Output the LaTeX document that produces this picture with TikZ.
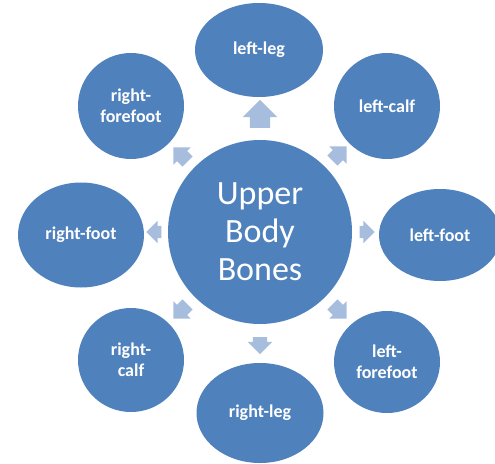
\documentclass[tikz,border=0pt]{standalone}
\usepackage{fontspec}
\setmainfont{Carlito}
\usetikzlibrary{shapes.geometric,shapes.arrows}
\definecolor{boneblue}{HTML}{4F81BD}
\definecolor{arrowblue}{HTML}{A7BDDD}

\begin{document}
\begin{tikzpicture}[x=1pt, y=-1pt,
    bone/.style={ellipse, fill=boneblue, text=white, inner sep=0pt, align=center,
        font=\fontsize{18}{21}\selectfont\bfseries},
    core/.style={circle, fill=boneblue, text=white, inner sep=0pt, align=center,
        minimum size=184pt, font=\fontsize{34}{38}\selectfont},
    link/.style={single arrow, fill=arrowblue, inner xsep=0pt, inner ysep=7pt,
        single arrow head indent=0pt, minimum height=20pt, single arrow head extend=5pt}]
    \useasboundingbox[fill=white] (0,0) rectangle (495,463);
    \node[core] (core) at (260,232) {Upper\\Body\\Bones};
    \node[bone, minimum width=128pt, minimum height=94pt] (lleg) at (259,50) {left-leg};
    \node[bone, minimum width=106pt, minimum height=106pt] (lcalf) at (387,106) {left-calf};
    \node[bone, minimum width=122pt, minimum height=92pt] (lfoot) at (440,235) {left-foot};
    \node[bone, minimum width=106pt, minimum height=102pt] (lfore) at (387,362) {left-\\forefoot};
    \node[bone, minimum width=127pt, minimum height=100pt] (rleg) at (260,413) {right-leg};
    \node[bone, minimum width=106pt, minimum height=104pt] (rcalf) at (131,360) {right-\\calf};
    \node[bone, minimum width=126pt, minimum height=105pt] (rfoot) at (81,235) {right-foot};
    \node[bone, minimum width=106pt, minimum height=106pt] (rfore) at (131,106) {right-\\forefoot};
    % arrows from the core out to each bone
    \node[link, rotate=90, minimum height=28pt, inner ysep=10pt, single arrow head extend=7pt] (up) at (260,119) {};
    \node[link, rotate=45] (upright) at (337,156) {};
    \node[link, rotate=0, minimum height=15pt, inner ysep=6pt] (right) at (364,232) {};
    \node[link, rotate=-45] (downright) at (337,309) {};
    \node[link, rotate=-90, minimum height=17pt] (down) at (260,342) {};
    \node[link, rotate=-135] (downleft) at (183,309) {};
    \node[link, rotate=180, minimum height=15pt, inner ysep=6pt] (left) at (157,232) {};
    \node[link, rotate=135] (upleft) at (183,157) {};
\end{tikzpicture}
\end{document}
